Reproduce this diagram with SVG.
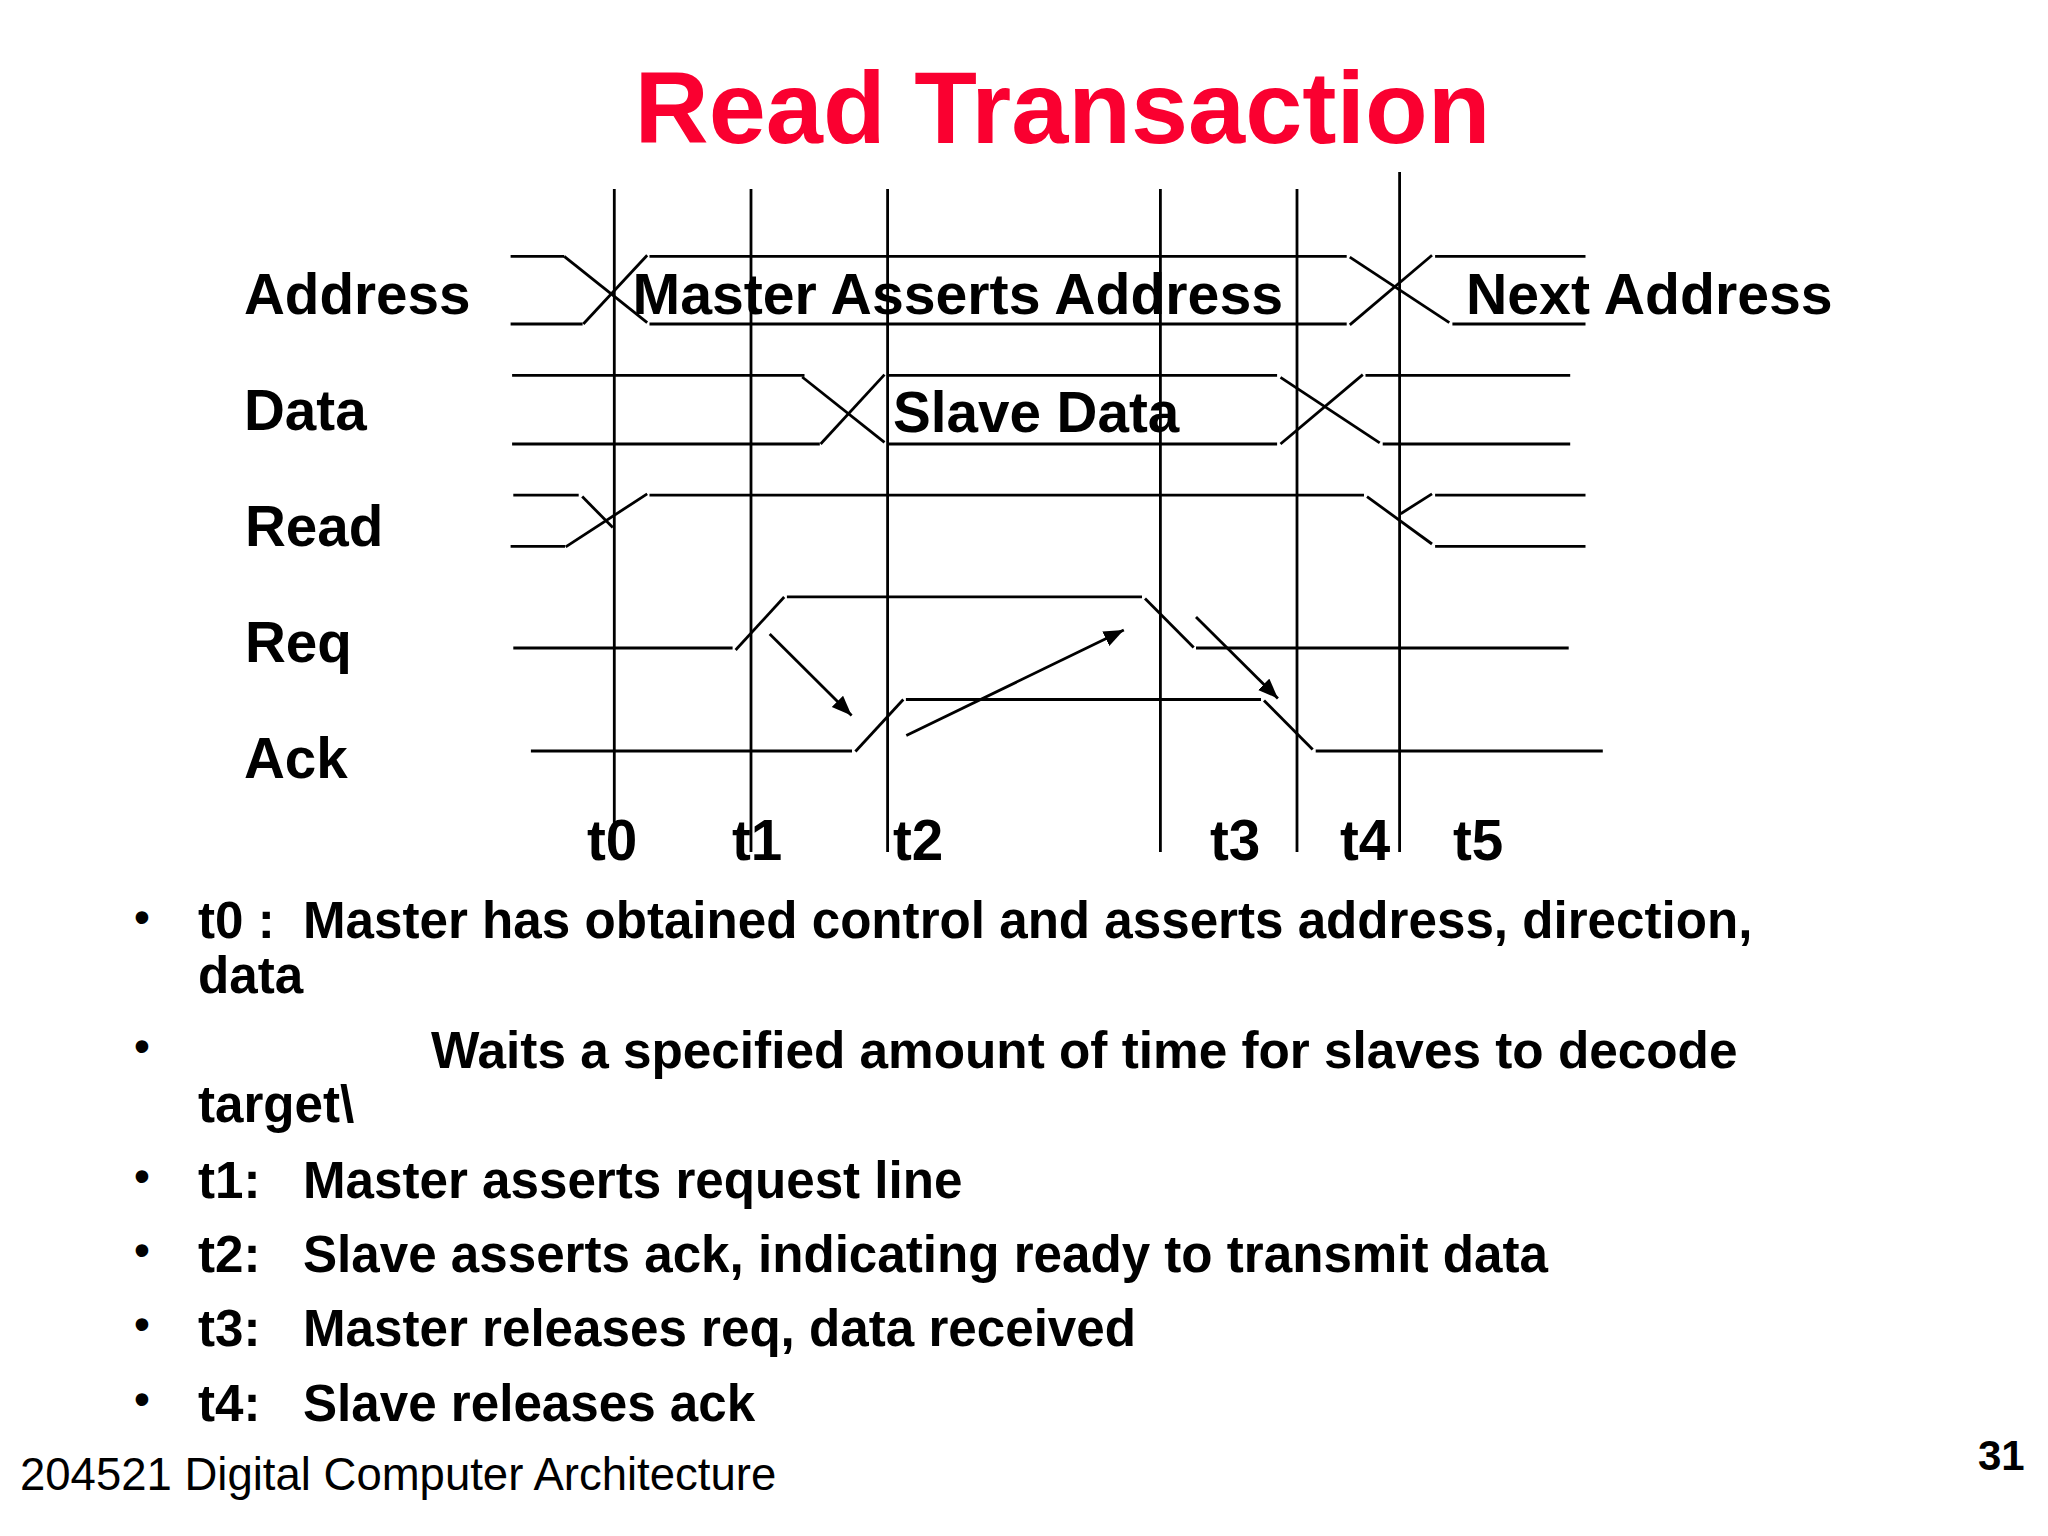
<svg xmlns="http://www.w3.org/2000/svg" width="2048" height="1536" viewBox="0 0 2048 1536">
<defs>
<style>
text{font-family:"Liberation Sans",Arial,sans-serif;fill:#000}
.b{font-weight:700}
.l{font-size:56.6px;font-weight:700}
.m{font-size:57.2px;font-weight:700}
.s{font-size:51.15px;font-weight:700}
.d{font-size:44px;font-weight:700}
#connectors line{stroke:#000;stroke-width:2.8;fill:none}
</style>
<marker id="ah" markerUnits="userSpaceOnUse" markerWidth="22" markerHeight="18" refX="20" refY="8" orient="auto"><path d="M0,0L20,8L0,16Z" fill="#000"/></marker>
</defs>
<rect width="2048" height="1536" fill="#fff"/>
<g id="connectors">
<line x1="614.3" y1="189" x2="614.3" y2="825"/>
<line x1="751" y1="189" x2="751" y2="852"/>
<line x1="887.6" y1="189" x2="887.6" y2="852"/>
<line x1="1160.4" y1="189" x2="1160.4" y2="852"/>
<line x1="1297" y1="189" x2="1297" y2="852"/>
<line x1="1399.6" y1="172" x2="1399.6" y2="852"/>
<line x1="510.6" y1="256.3" x2="564.2" y2="256.3"/>
<line x1="564.2" y1="256.3" x2="647.2" y2="322.6"/>
<line x1="510.6" y1="324" x2="582.6" y2="324"/>
<line x1="583.3" y1="324" x2="647.2" y2="255.3"/>
<line x1="649.5" y1="256.3" x2="1346.7" y2="256.3"/>
<line x1="649.5" y1="324" x2="1346.7" y2="324"/>
<line x1="1349.8" y1="257.2" x2="1449.3" y2="322.6"/>
<line x1="1349.8" y1="324.9" x2="1432" y2="255.3"/>
<line x1="1435.1" y1="256.3" x2="1585.5" y2="256.3"/>
<line x1="1452.4" y1="324" x2="1585.5" y2="324"/>
<line x1="512.1" y1="375.4" x2="804.5" y2="375.4"/>
<line x1="802.2" y1="377" x2="884.5" y2="442.3"/>
<line x1="512.1" y1="444" x2="819.8" y2="444"/>
<line x1="820.6" y1="444" x2="884.5" y2="374.6"/>
<line x1="887.6" y1="375.4" x2="1277.1" y2="375.4"/>
<line x1="887.6" y1="444" x2="1277.1" y2="444"/>
<line x1="1280.5" y1="377.4" x2="1379.7" y2="442.8"/>
<line x1="1280.5" y1="444" x2="1362.8" y2="374.6"/>
<line x1="1365.5" y1="375.4" x2="1570.2" y2="375.4"/>
<line x1="1382.7" y1="444" x2="1570.2" y2="444"/>
<line x1="513.3" y1="495.2" x2="578.7" y2="495.2"/>
<line x1="582.2" y1="496.6" x2="612.8" y2="527.5"/>
<line x1="510.6" y1="546.4" x2="565" y2="546.4"/>
<line x1="565.7" y1="546.8" x2="647.2" y2="493.9"/>
<line x1="649.5" y1="495.2" x2="1364" y2="495.2"/>
<line x1="1367" y1="496.6" x2="1432" y2="544"/>
<line x1="1400.7" y1="513.7" x2="1432" y2="493.9"/>
<line x1="1435.1" y1="495.2" x2="1585.5" y2="495.2"/>
<line x1="1435.1" y1="546.4" x2="1585.5" y2="546.4"/>
<line x1="513.3" y1="648" x2="732.6" y2="648"/>
<line x1="735.6" y1="650" x2="784.2" y2="597"/>
<line x1="786.9" y1="596.8" x2="1142" y2="596.8"/>
<line x1="1145" y1="598.5" x2="1193.7" y2="647.5"/>
<line x1="1196" y1="648" x2="1568.7" y2="648"/>
<line x1="530.9" y1="751" x2="852" y2="751"/>
<line x1="855.4" y1="751.5" x2="903.3" y2="699.5"/>
<line x1="905.9" y1="699.5" x2="1261" y2="699.5"/>
<line x1="1264" y1="700.5" x2="1312.7" y2="749.5"/>
<line x1="1315.7" y1="751" x2="1602.8" y2="751"/>
<line x1="769.7" y1="634" x2="851.6" y2="715.5" marker-end="url(#ah)"/>
<line x1="906.3" y1="735.5" x2="1123.8" y2="630" marker-end="url(#ah)"/>
<line x1="1196" y1="617" x2="1277.9" y2="698.4" marker-end="url(#ah)"/>
</g>
<g id="title"><text x="634.5" y="142.5" font-size="102.7" class="b" style="fill:#fa0030">Read Transaction</text></g>
<g id="signal-labels">
<text x="244" y="314" class="l">Address</text>
<text x="244" y="430" class="l">Data</text>
<text x="245" y="546" class="l">Read</text>
<text x="245" y="662" class="l">Req</text>
<text x="244" y="778" class="l">Ack</text>
<text x="632.5" y="314" class="m">Master Asserts Address</text>
<text x="893" y="432" class="l">Slave Data</text>
<text x="1466" y="314" class="m">Next Address</text>
</g>
<g id="time-labels">
<text x="587" y="860" class="l">t0</text>
<text x="732" y="860" class="l">t1</text>
<text x="893" y="860" class="l">t2</text>
<text x="1210" y="860" class="l">t3</text>
<text x="1340" y="860" class="l">t4</text>
<text x="1453" y="860" class="l">t5</text>
</g>
<g id="bullets">
<text x="134.3" y="931.5" class="d">•</text>
<text x="198" y="937.5" class="s">t0 :</text>
<text x="303" y="937.5" class="s">Master has obtained control and asserts address, direction,</text>
<text x="198" y="993" class="s">data</text>
<text x="134.3" y="1061" class="d">•</text>
<text x="431" y="1067.5" class="s" style="font-size:51.3px">Waits a specified amount of time for slaves to decode</text>
<text x="198" y="1122" class="s">target\</text>
<text x="134.3" y="1191" class="d">•</text>
<text x="198" y="1197.5" class="s">t1:</text>
<text x="303" y="1197.5" class="s">Master asserts request line</text>
<text x="134.3" y="1265" class="d">•</text>
<text x="198" y="1271.5" class="s">t2:</text>
<text x="303" y="1271.5" class="s">Slave asserts ack, indicating ready to transmit data</text>
<text x="134.3" y="1339" class="d">•</text>
<text x="198" y="1345.5" class="s">t3:</text>
<text x="303" y="1345.5" class="s">Master releases req, data received</text>
<text x="134.3" y="1414" class="d">•</text>
<text x="198" y="1420.5" class="s">t4:</text>
<text x="303" y="1420.5" class="s">Slave releases ack</text>
</g>
<g id="footer">
<text x="20" y="1490" font-size="45.5">204521 Digital Computer Architecture</text>
<text x="1978" y="1470" font-size="42" class="b">31</text>
</g>
</svg>
